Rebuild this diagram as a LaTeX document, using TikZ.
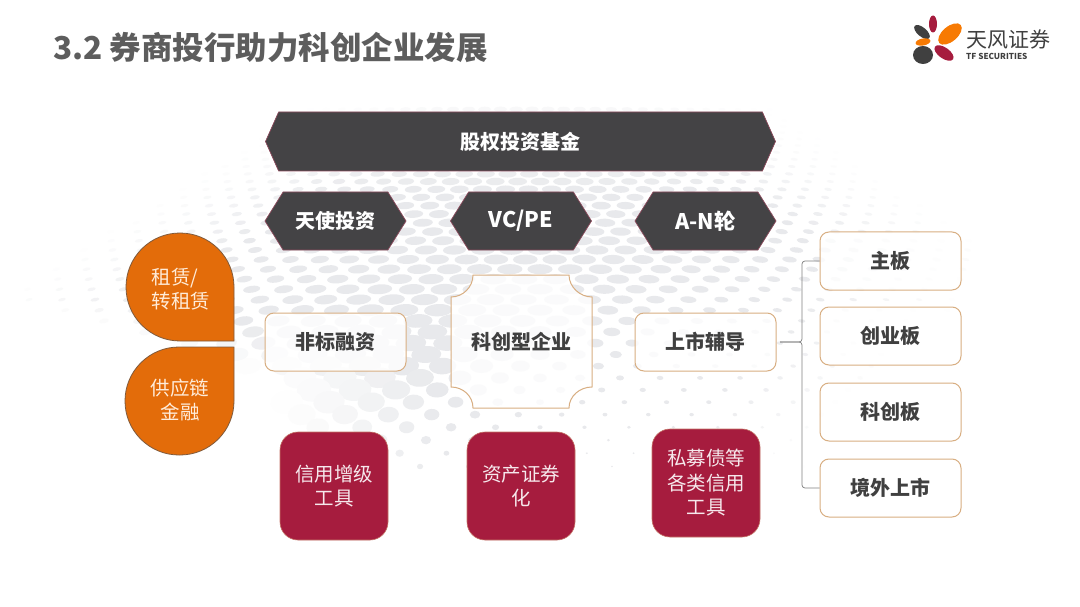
\documentclass[tikz,border=0pt]{standalone}
\usepackage{fontspec}
\setmainfont{Noto Sans CJK SC}
\usetikzlibrary{shapes.symbols,shapes.geometric}
\definecolor{hexgray}{HTML}{444345}
\definecolor{hexedge}{HTML}{8C4A5C}
\definecolor{wine}{HTML}{A61C3E}
\definecolor{amber}{HTML}{E36C0A}
\definecolor{amberedge}{HTML}{7F5A3C}
\definecolor{tan}{HTML}{D8AE82}
\definecolor{ink}{HTML}{404040}
\definecolor{dotgray}{HTML}{E8E9EC}
\tikzset{
    hexbox/.style={signal, signal from=nowhere, signal to=east and west, signal pointer angle=116,
        draw=hexedge, line width=.7pt, fill=hexgray, text=white, inner sep=0pt,
        minimum width=141pt, minimum height=58pt, font=\fontsize{20}{25}\selectfont\bfseries},
    whitebox/.style={rectangle, rounded corners=9pt, draw=tan, line width=1pt, fill=white, fill opacity=.8, text opacity=1,
        text=ink, inner sep=0pt, minimum width=141pt, minimum height=58pt, font=\fontsize{20}{25}\selectfont\bfseries},
    winebox/.style={rectangle, rounded corners=18pt, draw=tan!60!wine, line width=.6pt, fill=wine, text=white!90!wine,
        inner sep=0pt, minimum width=108pt, minimum height=108pt, align=center, font=\fontsize{19.5}{24.5}\selectfont},
    droptext/.style={text=white!85!orange, inner sep=0pt, font=\fontsize{19.5}{24}\selectfont},
    drop/.style={draw=amberedge, line width=.8pt, fill=amber},
    petal/.style={ellipse, inner sep=0pt},
    forkline/.style={draw=gray, line width=.7pt, rounded corners=3pt}
}
\begin{document}
\begin{tikzpicture}[x=1pt, y=-1pt]
    \useasboundingbox (0,0) rectangle (1080,607);
    \fill[white] (0,0) rectangle (1080,607);

    % dotted floor behind the boxes
    \foreach \n in {1,...,46}
    {
        \pgfmathsetmacro{\rowy}{104+5.2*\n+0.105*\n*\n}
        \pgfmathsetmacro{\stepx}{15+(\rowy-100)*0.09}
        \pgfmathsetmacro{\midx}{\rowy<260 ? 520 : max(300,520-(\rowy-260)*1.6)}
        \pgfmathsetmacro{\wide}{\rowy<260 ? 200+(\rowy-100)*0.8 : max(150,328-(\rowy-260)*1.2)}
        \pgfmathsetmacro{\fade}{\rowy<395 ? 1 : max(0.25,1-(\rowy-395)*0.012)}
        \pgfmathsetmacro{\xleft}{\rowy<300 ? 300-1.6*(\rowy-110) : min(280,3.5*(\rowy-300))}
        \pgfmathsetmacro{\xright}{\rowy<255 ? 780+(\rowy-110)*1.5 : 1000-(\rowy-255)*0.9}
        \ifdim\rowy pt<478pt
        \foreach \k in {-40,...,40}
        {
            \pgfmathsetmacro{\dotx}{540+\k*\stepx+mod(\n,2)*\stepx/2}
            \pgfmathparse{(\dotx>\xleft && \dotx<\xright) ? 1 : 0}
            \ifnum\pgfmathresult=1
                \pgfmathsetmacro{\rx}{\stepx*0.42*\fade*(0.16+0.84*exp(-((\dotx-\midx)/\wide)^2))}
                \pgfmathsetmacro{\ry}{\rx*(0.4+max(0,\rowy-300)*0.003)}
                \pgfmathsetmacro{\tilt}{(540-\dotx)/35}
                \pgfmathsetmacro{\shade}{100*min(1,min(\dotx-\xleft,\xright-\dotx)/160)*min(1,0.25+(\rowy-100)/130)}
                \fill[dotgray!\shade!white, shift={(\dotx,\rowy)}, rotate=\tilt] (0,0) ellipse ({\rx pt} and {\ry pt});
            \fi
        }
        \fi
    }

    % title and logo
    \node[anchor=west, inner sep=0pt, text=ink!85!white, font=\fontsize{31.5}{36}\selectfont\bfseries] (title) at (53,48) {3.2 券商投行助力科创企业发展};
    \node[petal, fill=wine, minimum width=17pt, minimum height=8pt, rotate=90] (petala) at (933,24) {};
    \node[petal, fill=ink, minimum width=19pt, minimum height=9pt, rotate=-40] (petalb) at (922,32) {};
    \node[petal, fill=orange!70!amber, minimum width=28pt, minimum height=15pt, rotate=40] (petalc) at (950,34) {};
    \node[petal, fill=orange!70!amber, minimum width=15pt, minimum height=7pt, rotate=10] (petald) at (923,42) {};
    \node[petal, fill=ink, minimum width=20pt, minimum height=18pt] (petale) at (923,55) {};
    \node[petal, fill=wine, minimum width=22pt, minimum height=11pt, rotate=-35] (petalf) at (944,53) {};
    \node[anchor=west, inner sep=0pt, text=ink, font=\fontsize{21}{24}\selectfont] (logoname) at (966,40) {天风证券};
    \node[anchor=west, inner sep=0pt, text=ink, font=\fontsize{8.2}{10}\selectfont\bfseries] (logotf) at (966,56.5) {TF SECURITIES};

    % hexagon rows
    \node[hexbox, minimum width=510pt, minimum height=59pt, signal pointer angle=132] (fund) at (520.5,141.5) {股权投资基金};
    \node[hexbox] (angel) at (335.5,221) {天使投资};
    \node[hexbox, font=\fontsize{21.5}{25}\selectfont\bfseries] (vcpe) at (521,221) {VC/PE};
    \node[hexbox, font=\fontsize{21.5}{25}\selectfont\bfseries] (round) at (705.5,221) {A-N轮};

    % left drops
    \draw[drop, rounded corners=54pt] (234,341) -- (126,341) -- (126,233) -- (234,233) [sharp corners] -- cycle;
    \draw[drop, rounded corners=54pt] (234,347) -- (125,347) -- (125,455) -- (234,455) [sharp corners] -- cycle;
    \node[droptext, align=left] (lease) at (181,289) {租赁/\\转租赁};
    \node[droptext, align=center] (supply) at (180,400) {供应链\\金融};

    % middle row
    \node[whitebox] (nonstd) at (335.5,342) {非标融资};
    \draw[draw=tan, line width=1pt, fill=white, fill opacity=.8] (473,275) -- (569,275) .. controls (569,287) and (580,297) .. (592,297)
        -- (592,387) .. controls (580,387) and (569,396) .. (569,408)
        -- (473,408) .. controls (473,396) and (463,387) .. (451,387)
        -- (451,297) .. controls (463,297) and (473,287) .. (473,275) -- cycle;
    \node[inner sep=0pt, text=ink, font=\fontsize{20}{25}\selectfont\bfseries] (kechuang) at (521,342) {科创型企业};
    \node[whitebox] (tutor) at (705.5,342) {上市辅导};

    % listing boards
    \node[whitebox] (mainb) at (890.5,261) {主板};
    \node[whitebox] (chinext) at (890.5,336) {创业板};
    \node[whitebox] (star) at (890.5,412) {科创板};
    \node[whitebox] (abroad) at (890.5,488) {境外上市};
    \coordinate (stem) at (780,342);
    \coordinate (fork) at (802,342);
    \draw[forkline] (mainb.west) -- (mainb.west -| fork) -- (fork) -- (stem);
    \draw[forkline] (abroad.west) -- (abroad.west -| fork) -- (fork) -- (stem);

    % bottom tools
    \node[winebox] (credit) at (334,486) {信用增级\\工具};
    \node[winebox] (abs) at (521,486) {资产证券\\化};
    \node[winebox] (bond) at (706,483) {私募债等\\各类信用\\工具};
\end{tikzpicture}
\end{document}
